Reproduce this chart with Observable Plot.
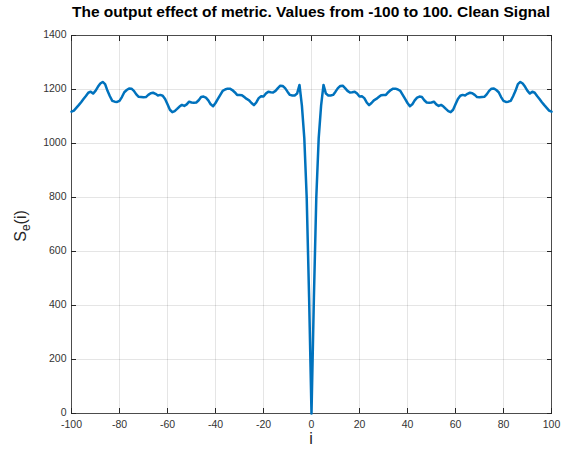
<!DOCTYPE html>
<html>
<head>
<meta charset="utf-8">
<script src="https://cdn.jsdelivr.net/npm/d3@7"></script>
<script src="https://cdn.jsdelivr.net/npm/@observablehq/plot@0.6"></script>
<style>
  html, body { margin: 0; padding: 0; background: #fff; }
  #chart { position: relative; width: 562px; height: 449px; }
  #title {
    position: absolute; left: 61px; width: 500px; top: 3px;
    text-align: center; font: bold 15.5px "Liberation Sans", Arial, sans-serif;
    color: #000; white-space: nowrap;
  }
</style>
</head>
<body>
<div id="chart">
  <div id="title">The output effect of metric. Values from -100 to 100. Clean Signal</div>
</div>
<script>
// Lag index i and the metric S_e(i) at each lag
const lags = d3.range(-100, 101);
const metric = [
  1118, 1122, 1132, 1142, 1153, 1165, 1176, 1188, 1192, 1185,
  1195, 1210, 1222, 1228, 1220, 1195, 1175, 1158, 1155, 1154,
  1158, 1172, 1190, 1198, 1204, 1203, 1195, 1182, 1173, 1172,
  1171, 1172, 1180, 1186, 1188, 1184, 1178, 1180, 1177, 1165,
  1145, 1125, 1116, 1120, 1128, 1137, 1143, 1139, 1145, 1155,
  1152, 1151, 1152, 1160, 1172, 1174, 1170, 1160, 1145, 1138,
  1150, 1165, 1180, 1195, 1200, 1203, 1203, 1198, 1190, 1180,
  1180, 1179, 1172, 1165, 1160, 1150, 1142, 1152, 1168, 1175,
  1174, 1185, 1192, 1190, 1189, 1195, 1205, 1214, 1213, 1205,
  1192, 1180, 1178, 1178, 1185, 1217, 1140, 1020, 800, 430,
  0,
  430, 800, 1020, 1140, 1217, 1185, 1178, 1178, 1180, 1192,
  1205, 1213, 1214, 1205, 1195, 1189, 1190, 1192, 1185, 1174,
  1175, 1168, 1152, 1142, 1150, 1160, 1165, 1172, 1179, 1180,
  1180, 1190, 1198, 1203, 1203, 1200, 1195, 1180, 1165, 1150,
  1138, 1145, 1160, 1170, 1174, 1172, 1160, 1152, 1151, 1152,
  1155, 1145, 1139, 1143, 1137, 1128, 1120, 1116, 1125, 1145,
  1165, 1177, 1180, 1178, 1184, 1188, 1186, 1180, 1172, 1171,
  1172, 1173, 1182, 1195, 1203, 1204, 1198, 1190, 1172, 1158,
  1154, 1155, 1158, 1175, 1195, 1220, 1228, 1222, 1210, 1195,
  1185, 1192, 1188, 1176, 1165, 1153, 1142, 1132, 1122, 1118
];
const xTicks = d3.range(-100, 101, 20);
const yTicks = d3.range(0, 1401, 200);

const data = lags.map((i, k) => ({i, s: metric[k]}));

const axisColor = "#262626";
const font = '"Liberation Sans", Arial, sans-serif';
const plain = d => String(d);
const blank = () => "";

const chart = Plot.plot({
  width: 562,
  height: 449,
  marginLeft: 71,
  marginRight: 11,
  marginTop: 35,
  marginBottom: 36,
  style: {fontFamily: font, fontSize: "10.5px", color: "#262626", background: "#fff"},
  x: {domain: [-100, 100], ticks: xTicks},
  y: {domain: [0, 1400], ticks: yTicks},
  marks: [
    Plot.gridX(xTicks, {stroke: "#000", strokeOpacity: 0.1}),
    Plot.gridY(yTicks, {stroke: "#000", strokeOpacity: 0.1}),
    // inward ticks on all four sides
    Plot.axisX(xTicks, {anchor: "bottom", tickSize: -5, tickFormat: blank, stroke: axisColor, label: null}),
    Plot.axisX(xTicks, {anchor: "top", tickSize: -5, tickFormat: blank, stroke: axisColor, label: null}),
    Plot.axisY(yTicks, {anchor: "left", tickSize: -5, tickFormat: blank, stroke: axisColor, label: null}),
    Plot.axisY(yTicks, {anchor: "right", tickSize: -5, tickFormat: blank, stroke: axisColor, label: null}),
    // tick labels
    Plot.axisX(xTicks, {anchor: "bottom", tickSize: 0, tickPadding: 7, tickFormat: plain, fill: "#333", label: null}),
    Plot.axisY(yTicks, {anchor: "left", tickSize: 0, tickPadding: 5, dy: -1, tickFormat: plain, fill: "#333", label: null}),
    Plot.frame({stroke: axisColor, strokeOpacity: 0.8}),
    Plot.line(data, {x: "i", y: "s", stroke: "#0072BD", strokeWidth: 2.5, strokeLinejoin: "round"})
  ]
});

document.getElementById("chart").appendChild(chart);

// Axis titles: "i" below, and S_e(i) rotated on the left
const svg = d3.select(chart);
svg.append("text")
  .attr("x", 311).attr("y", 444)
  .attr("text-anchor", "middle")
  .attr("font-family", font).attr("font-size", 16).attr("fill", "#262626")
  .text("i");

const yl = svg.append("text")
  .attr("transform", "translate(26,226) rotate(-90)")
  .attr("text-anchor", "middle")
  .attr("font-family", font).attr("font-size", 16).attr("fill", "#262626");
yl.append("tspan").text("S");
yl.append("tspan").attr("dy", 4).attr("font-size", 12).text("e");
yl.append("tspan").attr("dy", -4).text("(i)");
</script>
</body>
</html>
